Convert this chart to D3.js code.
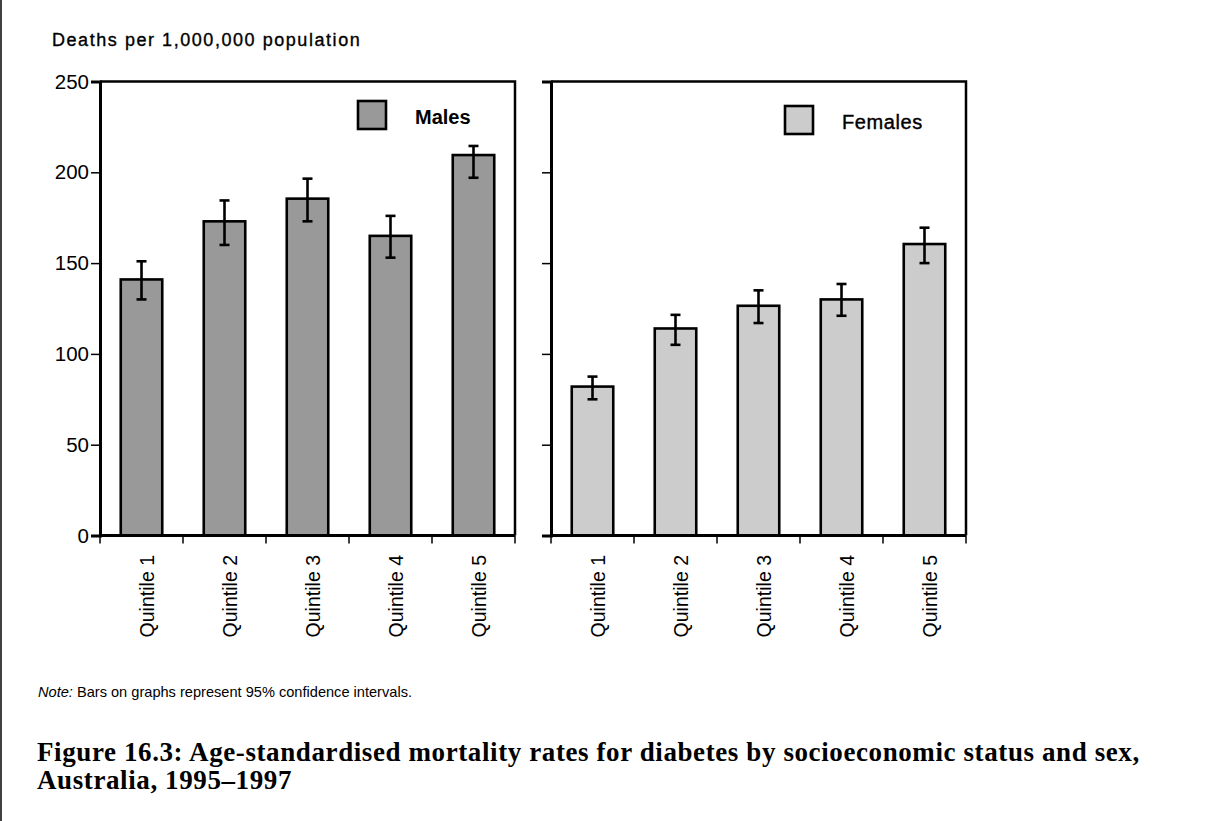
<!DOCTYPE html>
<html>
<head>
<meta charset="utf-8">
<script src="https://cdn.jsdelivr.net/npm/d3@7"></script>
<style>
  body { margin: 0; background: #fff; }
  svg { display: block; }
</style>
</head>
<body>
<svg id="chart" width="1205" height="821"></svg>
<script>
// ---- data ----
const categories = ["Quintile 1", "Quintile 2", "Quintile 3", "Quintile 4", "Quintile 5"];
const malesRate  = [141, 173, 185.5, 165, 209.5];
const malesLower = [130, 160, 173, 153, 197];
const malesUpper = [151, 184.5, 196.5, 176, 214.5];
const femalesRate  = [82, 114, 126.5, 130, 160.5];
const femalesLower = [75, 105, 117, 121, 150];
const femalesUpper = [87.5, 121.5, 135, 138.5, 169.5];
const yTicks = [0, 50, 100, 150, 200, 250];
const seriesNames = ["Males", "Females"];
const yTitle = "Deaths per 1,000,000 population";
const noteItalic = "Note:";
const noteText = " Bars on graphs represent 95% confidence intervals.";
const captionLines = [
  "Figure 16.3: Age-standardised mortality rates for diabetes by socioeconomic status and sex,",
  "Australia, 1995\u20131997"
];

const SANS = "'Liberation Sans', Arial, sans-serif";
const SERIF = "'Liberation Serif', 'Times New Roman', serif";

const svg = d3.select("#chart");
svg.append("rect").attr("width", 1205).attr("height", 821).attr("fill", "#fff");

// left border line
svg.append("line").attr("x1", 1).attr("x2", 1).attr("y1", 0).attr("y2", 821)
  .attr("stroke", "#000").attr("stroke-width", 1.5);

const yTop = 81.5, yBottom = 535.5;
const y = d3.scaleLinear().domain([0, 250]).range([yBottom, yTop]);

const panels = [
  { name: seriesNames[0], rate: malesRate, lo: malesLower, hi: malesUpper, fill: "#999999",
    x0: 100, x1: 515, labels: true, legend: { x: 358, y: 101, bold: true } },
  { name: seriesNames[1], rate: femalesRate, lo: femalesLower, hi: femalesUpper, fill: "#cccccc",
    x0: 551, x1: 966, labels: false, legend: { x: 785, y: 106, bold: false } }
];

panels.forEach(p => {
  const x = d3.scaleBand().domain(categories).range([p.x0, p.x1])
    .paddingInner(0.5).paddingOuter(0.25);
  const g = svg.append("g");
  const data = categories.map((c, i) => ({ c, v: p.rate[i], lo: p.lo[i], hi: p.hi[i] }));

  // frame (top and right)
  g.append("path")
    .attr("d", `M${p.x0},${yTop}H${p.x1}V${yBottom}`)
    .attr("fill", "none").attr("stroke", "#000").attr("stroke-width", 2.5);

  // bars
  g.selectAll("rect.bar").data(data).join("rect").attr("class", "bar")
    .attr("x", d => x(d.c)).attr("width", x.bandwidth())
    .attr("y", d => y(d.v)).attr("height", d => y(0) - y(d.v))
    .attr("fill", p.fill).attr("stroke", "#000").attr("stroke-width", 2.6);

  // error bars
  const cap = 5;
  const eb = g.selectAll("g.eb").data(data).join("g").attr("class", "eb")
    .attr("stroke", "#000").attr("stroke-width", 2.6);
  eb.append("line").attr("x1", d => x(d.c) + x.bandwidth() / 2).attr("x2", d => x(d.c) + x.bandwidth() / 2)
    .attr("y1", d => y(d.lo)).attr("y2", d => y(d.hi));
  eb.append("line").attr("x1", d => x(d.c) + x.bandwidth() / 2 - cap).attr("x2", d => x(d.c) + x.bandwidth() / 2 + cap)
    .attr("y1", d => y(d.hi)).attr("y2", d => y(d.hi));
  eb.append("line").attr("x1", d => x(d.c) + x.bandwidth() / 2 - cap).attr("x2", d => x(d.c) + x.bandwidth() / 2 + cap)
    .attr("y1", d => y(d.lo)).attr("y2", d => y(d.lo));

  // y axis
  const yAxis = d3.axisLeft(y).tickValues(yTicks).tickSize(9).tickPadding(2)
    .tickFormat(p.labels ? d3.format("d") : () => "");
  const ya = g.append("g").attr("transform", `translate(${p.x0},0)`).call(yAxis)
    .attr("font-family", SANS).attr("font-size", 20.5);
  ya.select(".domain").attr("stroke-width", 3);
  ya.selectAll(".tick line").attr("stroke-width", 1.5);
  ya.selectAll(".tick text").attr("fill", "#000");

  // x axis with ticks at band boundaries
  const step = x.step();
  const bounds = categories.map(c => x(c) + x.bandwidth() / 2 - step / 2)
    .concat([x(categories[categories.length - 1]) + x.bandwidth() / 2 + step / 2]);
  g.append("line").attr("x1", p.x0).attr("x2", p.x1).attr("y1", yBottom).attr("y2", yBottom)
    .attr("stroke", "#000").attr("stroke-width", 3);
  g.selectAll("line.xt").data(bounds).join("line").attr("class", "xt")
    .attr("x1", d => d).attr("x2", d => d).attr("y1", yBottom).attr("y2", yBottom + 8)
    .attr("stroke", "#000").attr("stroke-width", 1.5);

  // x labels, rotated
  g.selectAll("text.xl").data(categories).join("text").attr("class", "xl")
    .attr("transform", c => `translate(${x(c) + x.bandwidth() / 2 + 12},555) rotate(-90)`)
    .attr("text-anchor", "end").attr("font-family", SANS).attr("font-size", 19.5).text(c => c);

  // legend
  g.append("rect").attr("x", p.legend.x).attr("y", p.legend.y).attr("width", 28).attr("height", 28)
    .attr("fill", p.fill).attr("stroke", "#000").attr("stroke-width", 2.6);
  g.append("text").attr("x", p.legend.x + 57).attr("y", p.legend.y + 23)
    .attr("font-family", SANS).attr("font-size", 20)
    .attr("font-weight", p.legend.bold ? "bold" : "normal")
    .attr("letter-spacing", p.legend.bold ? 0 : 0.6)
    .style("stroke", p.legend.bold ? "none" : "#000").style("stroke-width", 0.4)
    .text(p.name);
});

// y-axis title
svg.append("text").attr("x", 52).attr("y", 46).attr("font-family", SANS).attr("font-size", 18)
  .attr("letter-spacing", 1.55).style("stroke", "#000").style("stroke-width", 0.35).text(yTitle);

// note
const note = svg.append("text").attr("x", 38).attr("y", 697).attr("font-family", SANS).attr("font-size", 14.6);
note.append("tspan").attr("font-style", "italic").text(noteItalic);
note.append("tspan").text(noteText);

// caption
svg.selectAll("text.cap").data(captionLines).join("text").attr("class", "cap")
  .attr("x", 37).attr("y", (d, i) => 761 + i * 28)
  .attr("font-family", SERIF)
  .attr("font-weight", "bold").attr("font-size", 27).attr("letter-spacing", 0.6)
  .text(d => d);
</script>
</body>
</html>
